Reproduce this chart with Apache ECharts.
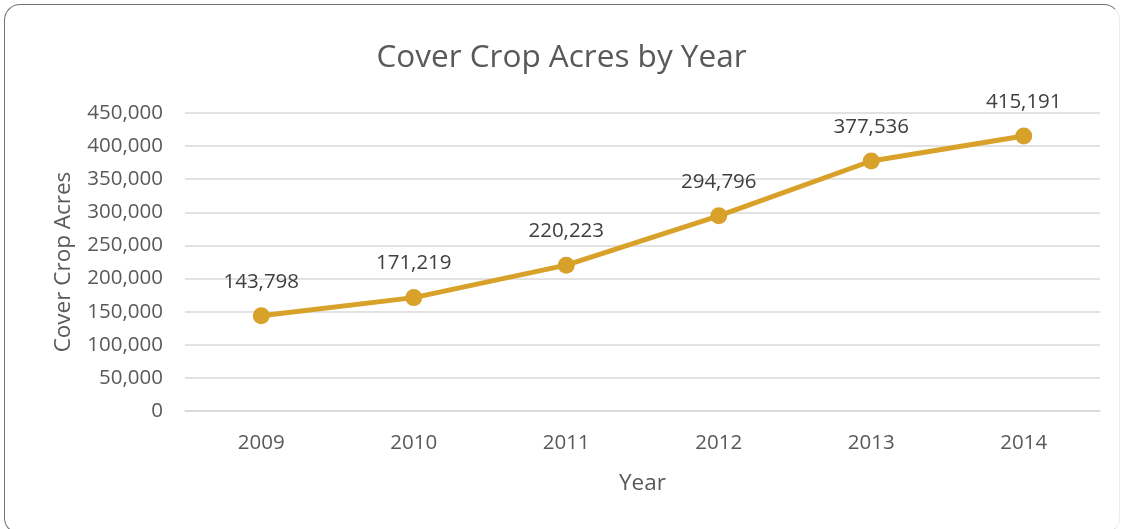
<!DOCTYPE html>
<html>
<head>
<meta charset="utf-8">
<script src="https://cdn.jsdelivr.net/npm/echarts@6/dist/echarts.min.js"></script>
<style>
html,body{margin:0;padding:0;background:#fff;width:1123px;height:529px;overflow:hidden;}
#frame{position:absolute;left:4px;top:4px;width:1116px;height:530px;border:1.5px solid #707070;border-right-color:#ececec;border-radius:16px;box-sizing:border-box;}
#chart{position:absolute;left:0;top:0;width:1123px;height:529px;}
</style>
</head>
<body>
<div id="frame"></div>
<div id="chart"></div>
<script>
const titleText = 'Cover Crop Acres by Year';
const years = ['2009', '2010', '2011', '2012', '2013', '2014'];
const acres = [143798, 171219, 220223, 294796, 377536, 415191];
const yAxisName = 'Cover Crop Acres';
const xAxisName = 'Year';

const txt = '#595959';
const font = '"Open Sans", sans-serif';
const chart = echarts.init(document.getElementById('chart'), null, {renderer: 'canvas'});
const fmt = v => v.toLocaleString('en-US');
chart.setOption({
  animation: false,
  backgroundColor: 'transparent',
  title: {
    text: titleText, left: 'center', top: 37,
    textStyle: {color: txt, fontSize: 31.5, fontWeight: 'normal', fontFamily: font}
  },
  grid: {left: 185, right: 23, top: 113, bottom: 118},
  xAxis: {
    type: 'category', data: years, boundaryGap: true,
    name: xAxisName, nameLocation: 'middle', nameGap: 61,
    nameTextStyle: {color: txt, fontSize: 22.5, fontFamily: font},
    axisLine: {show: true, lineStyle: {color: '#d9d9d9', width: 1.5}},
    axisTick: {show: false},
    axisLabel: {color: txt, fontSize: 20.5, fontFamily: font, margin: 22}
  },
  yAxis: {
    type: 'value', min: 0, max: 450000, interval: 50000,
    name: yAxisName, nameLocation: 'middle', nameGap: 110,
    nameTextStyle: {color: txt, fontSize: 22.5, fontFamily: font},
    axisLine: {show: false}, axisTick: {show: false},
    splitLine: {lineStyle: {color: '#d9d9d9', width: 1.5}},
    axisLabel: {color: txt, fontSize: 20.5, fontFamily: font, margin: 22, formatter: fmt}
  },
  series: [{
    type: 'line', data: acres,
    symbol: 'circle', symbolSize: 17,
    lineStyle: {color: '#D8A22A', width: 5},
    itemStyle: {color: '#D8A22A'},
    label: {show: true, position: 'top', distance: 15, color: '#404040', fontSize: 20.5, fontFamily: font, formatter: p => fmt(p.value)}
  }]
});
</script>
</body>
</html>
